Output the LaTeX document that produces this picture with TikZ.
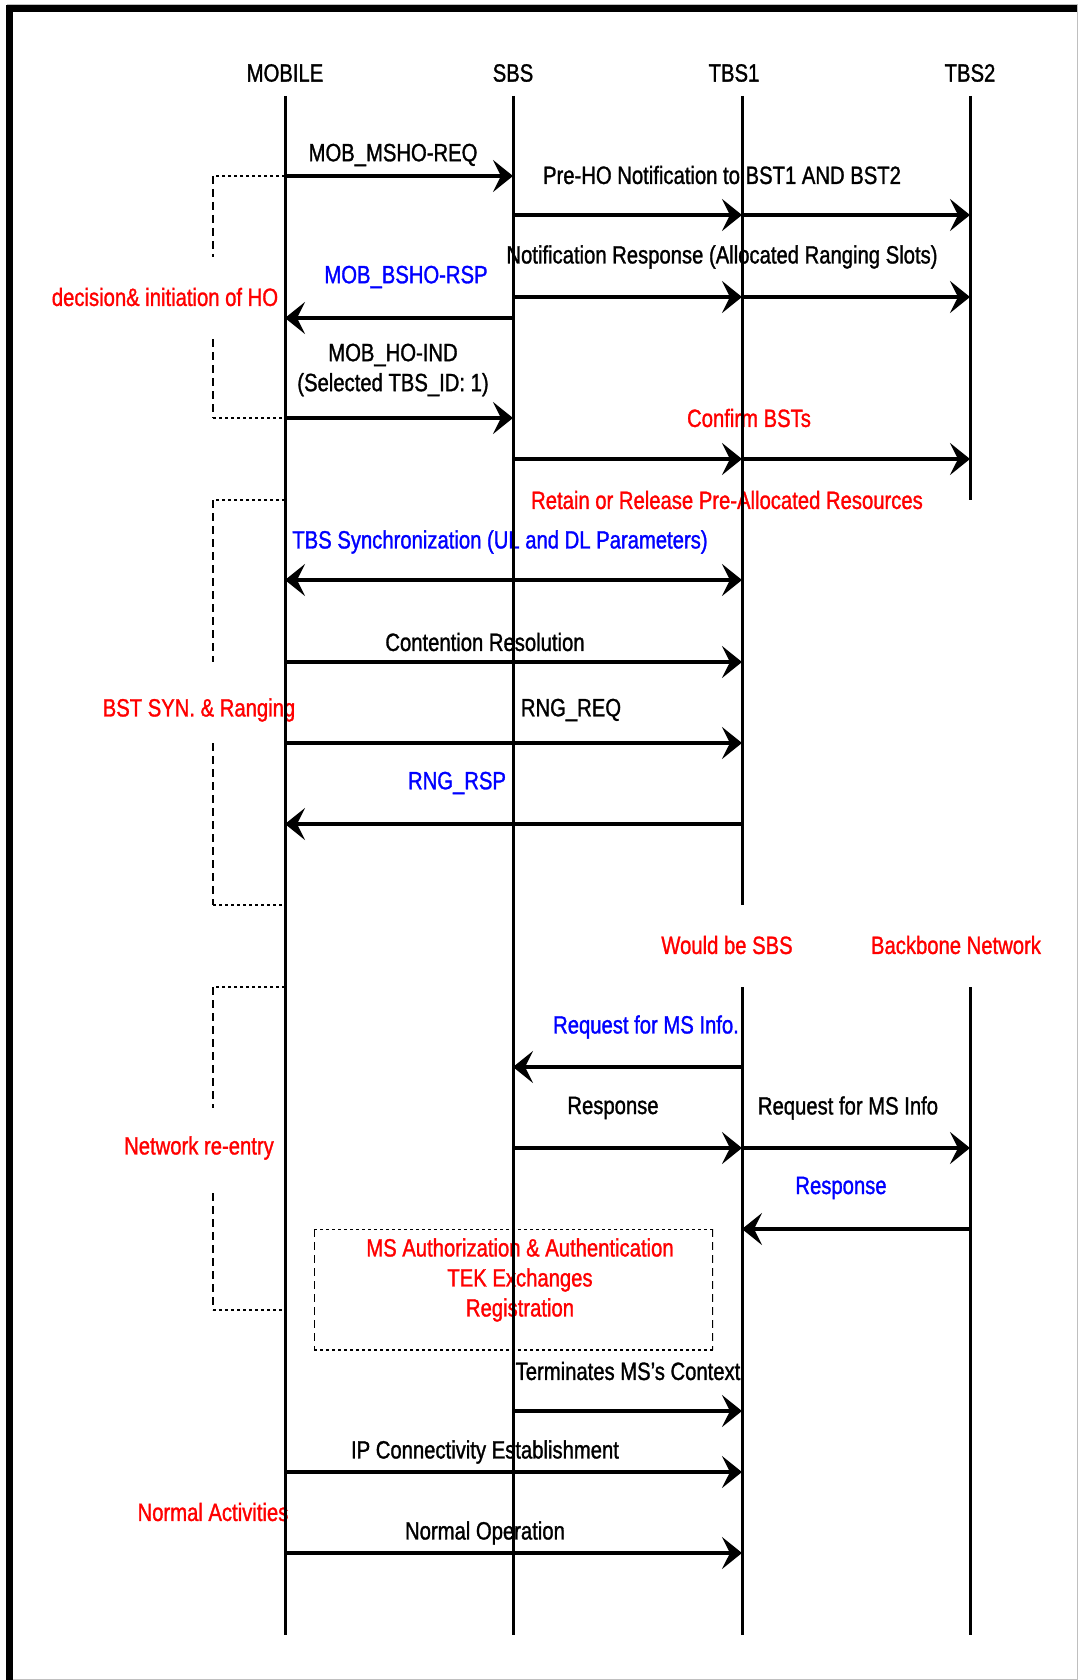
\documentclass[tikz,border=0pt]{standalone}
\usepackage{fontspec}
\setmainfont{Liberation Sans}[FakeStretch=0.81, FakeBold=1.2]
\usetikzlibrary{arrows.meta}

\begin{document}
\begin{tikzpicture}[x=0.5pt, y=-0.5pt,
        txt/.style={inner sep=0pt, font=\fontsize{12.5}{15}\selectfont, align=center},
        note/.style={txt, text=red},
        reply/.style={txt, text=blue},
        life/.style={line width=1.5pt},
        paths/.style={line width=2.3pt, -{Stealth[length=10pt, width=16pt, inset=4pt]}},
        twoway/.style={line width=2.3pt, {Stealth[length=10pt, width=16pt, inset=4pt]}-{Stealth[length=10pt, width=16pt, inset=4pt]}},
        brace/.style={line width=0.7pt, dash pattern=on 4pt off 2.5pt},
        tick/.style={line width=0.7pt, dash pattern=on 1.5pt off 1.5pt},
        dotbox/.style={
            rectangle, inner sep=0pt,
            minimum width=199.5pt, minimum height=60.5pt,
            path picture={
                \draw[line width=1.4pt, dash pattern=on 1.5pt off 1.5pt] (path picture bounding box.north west) -- (path picture bounding box.north east); % top line
                \draw[line width=1.4pt, dash pattern=on 1.5pt off 1.5pt] (path picture bounding box.south west) -- (path picture bounding box.south east); % bottom line
                \draw[line width=1.4pt, dash pattern=on 4pt off 2.5pt] (path picture bounding box.north west) -- (path picture bounding box.south west); % left side
                \draw[line width=1.4pt, dash pattern=on 4pt off 2.5pt] (path picture bounding box.north east) -- (path picture bounding box.south east); % right side
            }
        }
    ]
    \useasboundingbox (0,0) rectangle (1078,1680);

        % Frame
        \draw[gray!50, line width=0.5pt] (7,5) rectangle (1077,1679);
        \draw[line width=3.5pt] (9.5,1680) -- (9.5,8.5) -- (1077,8.5);

        % Lifeline heads and rows
        \coordinate (mob) at (285,96);
        \coordinate (sbs) at (513,96);
        \coordinate (tb1) at (742,96);
        \coordinate (tb2) at (970,96);
        \coordinate (brk) at (213,96);

        \coordinate (bot) at (0,1635);
        \coordinate (cut1) at (0,905);
        \coordinate (cut2) at (0,500);
        \coordinate (back) at (0,987);

        \coordinate (r1) at (0,176);
        \coordinate (r2) at (0,215);
        \coordinate (r3) at (0,297);
        \coordinate (r4) at (0,318);
        \coordinate (r5) at (0,418);
        \coordinate (r6) at (0,459);
        \coordinate (r7) at (0,580);
        \coordinate (r8) at (0,662);
        \coordinate (r9) at (0,743);
        \coordinate (r10) at (0,824);
        \coordinate (r11) at (0,1067);
        \coordinate (r12) at (0,1148);
        \coordinate (r13) at (0,1229);
        \coordinate (r14) at (0,1411);
        \coordinate (r15) at (0,1472);
        \coordinate (r16) at (0,1553);

        % Nodes
        \node[txt] (mobile) at (285,73) {MOBILE};
        \node[txt] (sbsname) at (513,73) {SBS};
        \node[txt] (tbs1name) at (734,73) {TBS1};
        \node[txt] (tbs2name) at (970,73) {TBS2};

        \node[txt] (mshoreq) at (393,155) {MOB\_MSHO-REQ};
        \node[txt] (preho) at (722,175) {Pre-HO Notification to BST1 AND BST2};
        \node[txt] (notifresp) at (722,257) {Notification Response (Allocated Ranging Slots)};
        \node[reply] (bshorsp) at (406,277) {MOB\_BSHO-RSP};
        \node[note] (decision) at (165,297) {decision\& initiation of HO};
        \node[txt] (hoind) at (393,370) {MOB\_HO-IND\\(Selected TBS\_ID: 1)};
        \node[note] (confirm) at (749,418) {Confirm BSTs};
        \node[note] (retain) at (727,500) {Retain or Release Pre-Allocated Resources};
        \node[reply] (sync) at (500,542) {TBS Synchronization (UL and DL Parameters)};
        \node[txt] (contention) at (485,642) {Contention Resolution};
        \node[txt] (rngreq) at (571,710) {RNG\_REQ};
        \node[note] (ranging) at (199,710) {BST SYN. \& Ranging};
        \node[reply] (rngrsp) at (457,783) {RNG\_RSP};

        \node[note] (wouldbe) at (727,945) {Would be SBS};
        \node[note] (backbone) at (956,945) {Backbone Network};
        \node[reply] (reqinfo) at (646,1027) {Request for MS Info.};
        \node[txt] (resp) at (613,1108) {Response};
        \node[txt] (reqinfo2) at (848,1108) {Request for MS Info};
        \node[reply] (resp2) at (841,1188) {Response};
        \node[note] (reentry) at (199,1148) {Network re-entry};

        \node[dotbox] (auth) at (513.5,1289.5) {};
        \node[note] (authtxt) at (520,1280) {MS Authorization \& Authentication\\TEK Exchanges\\Registration};

        \node[txt] (terminate) at (628,1371) {Terminates MS’s Context};
        \node[txt] (ipconn) at (485,1452) {IP Connectivity Establishment};
        \node[note] (normal) at (213,1512) {Normal Activities};
        \node[txt] (operation) at (485,1533) {Normal Operation};

        % Lifelines
        \draw[life] (mob) -- (mob |- bot);
        \draw[life] (sbs) -- (sbs |- bot);
        \draw[life] (tb1) -- (tb1 |- cut1);
        \draw[life] (tb1 |- back) -- (tb1 |- bot);
        \draw[life] (tb2) -- (tb2 |- cut2);
        \draw[life] (tb2 |- back) -- (tb2 |- bot);

        % Paths: handover messages
        \draw[paths] (mob |- r1) -- (sbs |- r1);
        \draw[paths] (sbs |- r2) -- (tb1 |- r2);
        \draw[paths] (tb1 |- r2) -- (tb2 |- r2);
        \draw[paths] (sbs |- r3) -- (tb1 |- r3);
        \draw[paths] (tb1 |- r3) -- (tb2 |- r3);
        \draw[paths] (sbs |- r4) -- (mob |- r4);
        \draw[paths] (mob |- r5) -- (sbs |- r5);
        \draw[paths] (sbs |- r6) -- (tb1 |- r6);
        \draw[paths] (tb1 |- r6) -- (tb2 |- r6);

        % Paths: synchronization and ranging
        \draw[twoway] (mob |- r7) -- (tb1 |- r7);
        \draw[paths] (mob |- r8) -- (tb1 |- r8);
        \draw[paths] (mob |- r9) -- (tb1 |- r9);
        \draw[paths] (tb1 |- r10) -- (mob |- r10);

        % Paths: network re-entry
        \draw[paths] (tb1 |- r11) -- (sbs |- r11);
        \draw[paths] (sbs |- r12) -- (tb1 |- r12);
        \draw[paths] (tb1 |- r12) -- (tb2 |- r12);
        \draw[paths] (tb2 |- r13) -- (tb1 |- r13);
        \draw[paths] (sbs |- r14) -- (tb1 |- r14);
        \draw[paths] (mob |- r15) -- (tb1 |- r15);
        \draw[paths] (mob |- r16) -- (tb1 |- r16);

        % Phase brackets
        \draw[tick] (mob |- r1) -- (brk |- r1);
        \draw[brace] (brk |- r1) -- (213,257);
        \draw[brace] (213,339) -- (brk |- r5);
        \draw[tick] (brk |- r5) -- (mob |- r5);

        \draw[tick] (mob |- cut2) -- (brk |- cut2);
        \draw[brace] (brk |- cut2) -- (brk |- r8);
        \draw[brace] (brk |- r9) -- (brk |- cut1);
        \draw[tick] (brk |- cut1) -- (mob |- cut1);

        \draw[tick] (mob |- back) -- (brk |- back);
        \draw[brace] (brk |- back) -- (213,1108);
        \draw[brace] (213,1193) -- (213,1310);
        \draw[tick] (213,1310) -- (285,1310);

    \end{tikzpicture}
\end{document}
